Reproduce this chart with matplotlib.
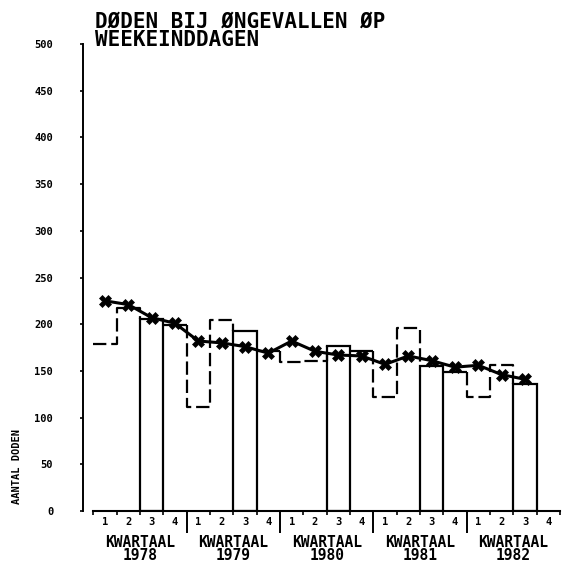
import numpy as np
import matplotlib
matplotlib.use("Agg")
import matplotlib.pyplot as plt

# ---------------- data ----------------
years = ["1978", "1979", "1980", "1981", "1982"]
quarters = ["1", "2", "3", "4"]
q1 = [179, 111, 160, 122, 122]
q2 = [217, 205, 161, 196, 156]
q3 = [206, 193, 177, 155, 136]
q4 = [199, 171, 171, 149, np.nan]
trend = [225, 221, 207, 201, 182, 180, 176, 169, 182, 171,
         167, 166, 157, 166, 161, 154, 156, 146, 141]
yticks = [0, 50, 100, 150, 200, 250, 300, 350, 400, 450, 500]
title_lines = ["DØDEN BIJ ØNGEVALLEN ØP", "WEEKEINDDAGEN"]
ylabel_text = "AANTAL DODEN"
period_word = "KWARTAAL"

MONO = ["DejaVu Sans Mono"]
W, H = 566, 562
fig = plt.figure(figsize=(W / 100, H / 100), dpi=100)
ax = fig.add_axes([93.3 / W, (H - 511) / H, 466.7 / W, 467 / H])

nq = len(years) * len(quarters)
ax.set_xlim(0, nq)
ax.set_ylim(0, 500)

LW = 1.6
# dashed part: previous Q4 -> Q1 -> Q2 -> start of Q3
for i in range(len(years)):
    b = 4 * i
    xs, ys = [], []
    if i > 0 and not np.isnan(q4[i - 1]):
        xs.append(b); ys.append(q4[i - 1])
    xs += [b, b + 1, b + 1, b + 2, b + 2]
    ys += [q1[i], q1[i], q2[i], q2[i], q3[i]]
    ax.plot(xs, ys, color="black", lw=LW, linestyle=(0, (6, 2.2)),
            dash_capstyle="butt", solid_joinstyle="miter", zorder=2)

# solid Q3 columns
ax.bar([4 * i + 2.5 for i in range(len(years))], q3, width=1.0,
       fill=False, edgecolor="black", linewidth=LW, zorder=2)
# solid Q4 levels
for i in range(len(years)):
    if not np.isnan(q4[i]):
        ax.hlines(q4[i], 4 * i + 3, 4 * i + 4, color="black", lw=LW, zorder=2)

# trend line
ax.plot(np.arange(len(trend)) + 0.5, trend, color="black", lw=2.2,
        marker="X", markersize=8, markeredgewidth=0.5, zorder=3)

# ---------------- axes styling ----------------
for s in ("top", "right"):
    ax.spines[s].set_visible(False)
ax.spines["left"].set_position(("outward", 7.4))
ax.spines["left"].set_linewidth(1.4)
ax.spines["bottom"].set_linewidth(1.5)

ax.set_yticks(yticks)
ax.set_yticklabels([str(v) for v in yticks])
ax.tick_params(axis="y", direction="out", length=2.5, width=1.2, pad=19)
for lbl in ax.get_yticklabels():
    lbl.set_family(MONO); lbl.set_fontweight("bold"); lbl.set_fontsize(7.5)

# quarter labels at centers, small ticks at quarter boundaries
centers = [k + 0.5 for k in range(nq)]
ax.set_xticks(centers)
ax.set_xticklabels(quarters * len(years))
ax.tick_params(axis="x", which="major", length=0, pad=4)
for lbl in ax.get_xticklabels():
    lbl.set_family(MONO); lbl.set_fontweight("bold"); lbl.set_fontsize(7.5)
bounds = [k for k in range(nq + 1) if k % 4 != 0 or k in (0, nq)]
ax.set_xticks(bounds, minor=True)
ax.tick_params(axis="x", which="minor", direction="out", length=3, width=1.2)

# year boundaries and year labels
sec = ax.secondary_xaxis("bottom")
sec.spines["bottom"].set_visible(False)
sec.set_xticks([4 * i for i in range(1, len(years))])
sec.set_xticklabels([""] * (len(years) - 1))
sec.tick_params(axis="x", which="major", direction="out", length=16, width=1.4)
sec.set_xticks([4 * i + 2 for i in range(len(years))],
               [f"{period_word}\n{y}" for y in years], minor=True)
sec.tick_params(axis="x", which="minor", length=0, pad=17)
for lbl in sec.get_xticklabels(minor=True):
    lbl.set_family(MONO); lbl.set_fontweight("bold"); lbl.set_fontsize(10.5)
    lbl.set_linespacing(0.9)

# y label and title
fig.text(17 / W, 1 - 466 / H, ylabel_text, rotation=90, ha="center",
         va="center", family=MONO, fontweight="bold", fontsize=7.5)
fig.text(95 / W, 1 - 12 / H, "\n".join(title_lines), ha="left", va="top",
         family=MONO, fontweight="bold", fontsize=15, linespacing=0.85)

fig.savefig("out.png", dpi=100)
